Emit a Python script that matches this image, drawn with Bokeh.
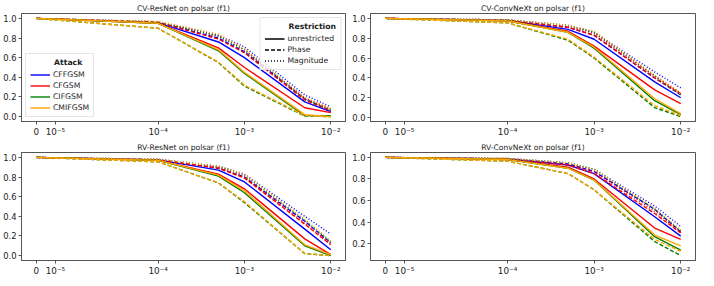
import numpy as np
from bokeh.plotting import figure
from bokeh.layouts import gridplot
from bokeh.models import (Range1d, FixedTicker, CustomJSTickFormatter,
                          PrintfTickFormatter, Legend, LegendItem)
from bokeh.embed import file_html
from bokeh.resources import INLINE

# ---------------- data ----------------
eps = [0.0, 1e-4, 5e-4, 1e-3, 5e-3, 1e-2]
attacks = ["CFFGSM", "CFGSM", "CIFGSM", "CMIFGSM"]
restrictions = ["unrestricted", "Phase", "Magnitude"]
colors = ["blue", "red", "green", "orange"]
dashes = ["solid", "4 2", "1 2"]

x_tick_values = [0.0, 1e-5, 1e-4, 1e-3, 1e-2]
x_tick_labels = ["0", "10\u207b\u2075", "10\u207b\u2074", "10\u207b\u00b3", "10\u207b\u00b2"]
y_tick_values = [0.0, 0.2, 0.4, 0.6, 0.8, 1.0]

titles = ["CV-ResNet on polsar (f1)", "CV-ConvNeXt on polsar (f1)",
          "RV-ResNet on polsar (f1)", "RV-ConvNeXt on polsar (f1)"]

# each attack: [unrestricted, Phase, Magnitude]
cv_resnet_cffgsm = [[1.0, 0.955, 0.76, 0.60, 0.15, 0.05],
                    [1.0, 0.96, 0.80, 0.66, 0.18, 0.06],
                    [1.0, 0.965, 0.83, 0.71, 0.22, 0.10]]
cv_resnet_cfgsm = [[1.0, 0.95, 0.70, 0.50, 0.09, 0.04],
                   [1.0, 0.96, 0.79, 0.65, 0.17, 0.06],
                   [1.0, 0.965, 0.82, 0.68, 0.19, 0.08]]
cv_resnet_cifgsm = [[1.0, 0.95, 0.67, 0.44, 0.01, 0.01],
                    [1.0, 0.90, 0.55, 0.31, 0.005, 0.0],
                    [1.0, 0.965, 0.82, 0.68, 0.18, 0.07]]
cv_resnet_cmifgsm = [[1.0, 0.95, 0.68, 0.45, 0.02, 0.0],
                     [1.0, 0.90, 0.555, 0.32, 0.01, 0.0],
                     [1.0, 0.97, 0.84, 0.69, 0.19, 0.08]]

cv_convnext_cffgsm = [[1.0, 0.98, 0.89, 0.79, 0.36, 0.20],
                      [1.0, 0.98, 0.91, 0.83, 0.40, 0.23],
                      [1.0, 0.985, 0.93, 0.86, 0.46, 0.30]]
cv_convnext_cfgsm = [[1.0, 0.975, 0.87, 0.72, 0.28, 0.14],
                     [1.0, 0.98, 0.91, 0.83, 0.40, 0.24],
                     [1.0, 0.985, 0.92, 0.85, 0.42, 0.25]]
cv_convnext_cifgsm = [[1.0, 0.975, 0.86, 0.70, 0.17, 0.03],
                      [1.0, 0.955, 0.78, 0.60, 0.10, 0.01],
                      [1.0, 0.985, 0.93, 0.86, 0.42, 0.23]]
cv_convnext_cmifgsm = [[1.0, 0.975, 0.86, 0.71, 0.19, 0.04],
                       [1.0, 0.955, 0.79, 0.61, 0.12, 0.02],
                       [1.0, 0.985, 0.93, 0.87, 0.43, 0.24]]

rv_resnet_cffgsm = [[1.0, 0.975, 0.87, 0.75, 0.27, 0.06],
                    [1.0, 0.975, 0.89, 0.80, 0.35, 0.13],
                    [1.0, 0.98, 0.91, 0.83, 0.40, 0.22]]
rv_resnet_cfgsm = [[1.0, 0.97, 0.83, 0.68, 0.17, 0.01],
                   [1.0, 0.975, 0.89, 0.79, 0.32, 0.11],
                   [1.0, 0.98, 0.90, 0.80, 0.33, 0.12]]
rv_resnet_cifgsm = [[1.0, 0.97, 0.81, 0.64, 0.10, 0.0],
                    [1.0, 0.955, 0.74, 0.54, 0.02, 0.0],
                    [1.0, 0.98, 0.91, 0.82, 0.36, 0.14]]
rv_resnet_cmifgsm = [[1.0, 0.97, 0.82, 0.66, 0.11, 0.01],
                     [1.0, 0.955, 0.74, 0.55, 0.02, 0.0],
                     [1.0, 0.98, 0.91, 0.83, 0.37, 0.15]]

rv_convnext_cffgsm = [[1.0, 0.985, 0.93, 0.85, 0.45, 0.27],
                      [1.0, 0.985, 0.94, 0.87, 0.52, 0.31],
                      [1.0, 0.99, 0.95, 0.89, 0.55, 0.36]]
rv_convnext_cfgsm = [[1.0, 0.98, 0.91, 0.80, 0.345, 0.24],
                     [1.0, 0.985, 0.93, 0.85, 0.48, 0.30],
                     [1.0, 0.99, 0.94, 0.87, 0.50, 0.31]]
rv_convnext_cifgsm = [[1.0, 0.98, 0.90, 0.79, 0.265, 0.14],
                      [1.0, 0.965, 0.85, 0.70, 0.22, 0.09],
                      [1.0, 0.99, 0.95, 0.89, 0.52, 0.32]]
rv_convnext_cmifgsm = [[1.0, 0.98, 0.90, 0.79, 0.28, 0.18],
                       [1.0, 0.965, 0.85, 0.70, 0.24, 0.13],
                       [1.0, 0.99, 0.95, 0.89, 0.53, 0.33]]

panels = [
    [cv_resnet_cffgsm, cv_resnet_cfgsm, cv_resnet_cifgsm, cv_resnet_cmifgsm],
    [cv_convnext_cffgsm, cv_convnext_cfgsm, cv_convnext_cifgsm, cv_convnext_cmifgsm],
    [rv_resnet_cffgsm, rv_resnet_cfgsm, rv_resnet_cifgsm, rv_resnet_cmifgsm],
    [rv_convnext_cffgsm, rv_convnext_cfgsm, rv_convnext_cifgsm, rv_convnext_cmifgsm],
]

# ---------------- symlog scale helper ----------------
LINTHRESH = 5e-5
LINSCALE = 1.0 / (1.0 - 1.0 / 10.0)


def symlog(v):
    v = np.asarray(v, dtype=float)
    a = np.abs(v)
    lin = v / LINTHRESH * LINSCALE
    lg = np.sign(v) * (LINSCALE + np.log10(np.maximum(a, 1e-300) / LINTHRESH))
    return np.where(a < LINTHRESH, lin, lg)


FONT = "DejaVu Sans"
TXT = "#222222"
SPINE = "#555555"
NB = "\u00a0"

xt = symlog(eps)
xspan = float(xt.max() - xt.min())
x_lo, x_hi = float(xt.min()) - 0.05 * xspan, float(xt.max()) + 0.05 * xspan
tick_pos = [float(t) for t in symlog(x_tick_values)]


def make_panel(idx, left_b, right_b, with_legend):
    data = panels[idx]
    allv = np.array(data).ravel()
    lo, hi = float(allv.min()), float(allv.max())
    pad = 0.05 * (hi - lo)
    p = figure(width=349, height=139, output_backend="svg", toolbar_location=None,
               x_range=Range1d(x_lo, x_hi), y_range=Range1d(lo - pad, hi + pad),
               min_border_left=left_b, min_border_right=right_b,
               min_border_top=12, min_border_bottom=18)
    p.title.text = titles[idx]
    p.title.align = "center"
    p.title.text_font = FONT
    p.title.text_font_size = "7.6px"
    p.title.text_font_style = "normal"
    p.title.text_color = TXT
    p.title.standoff = 2

    p.xgrid.visible = False
    p.ygrid.visible = False
    p.outline_line_color = SPINE
    p.outline_line_width = 1
    p.background_fill_color = "white"
    p.border_fill_color = "white"

    p.xaxis.ticker = FixedTicker(ticks=tick_pos)
    p.xaxis.formatter = CustomJSTickFormatter(
        args=dict(tpos=tick_pos, tlab=x_tick_labels),
        code="for (let i = 0; i < tpos.length; i++) { if (Math.abs(tpos[i] - tick) < 1e-6) return tlab[i]; } return '';")
    p.yaxis.ticker = FixedTicker(ticks=y_tick_values)
    p.yaxis.formatter = PrintfTickFormatter(format="%.1f")
    for ax in (p.xaxis[0], p.yaxis[0]):
        ax.axis_line_color = SPINE
        ax.major_tick_line_color = SPINE
        ax.major_tick_out = 3
        ax.major_tick_in = 0
        ax.minor_tick_line_color = None
        ax.major_label_standoff = 2
        ax.major_label_text_font = FONT
        ax.major_label_text_font_size = "8.4px"
        ax.major_label_text_color = TXT
    p.xaxis[0].major_label_text_font_size = "8.8px"

    solid_renderers = []
    for a, series in enumerate(data):
        for r, ys in enumerate(series):
            rend = p.line(list(xt), ys, line_color=colors[a], line_width=1.4,
                          line_dash=dashes[r])
            if r == 0:
                solid_renderers.append(rend)

    if with_legend:
        attack_items = [LegendItem(label=attacks[i], renderers=[solid_renderers[i]])
                        for i in range(4)]
        restr_items = []
        # legend-only black samples, placed outside the visible range
        for r in range(3):
            dummy = p.line([x_lo - 10, x_lo - 9], [-10, -10], line_color="black",
                           line_width=1.4, line_dash=dashes[r])
            restr_items.append(LegendItem(label=restrictions[r], renderers=[dummy]))
        for items, title, loc in ((attack_items, NB * 9 + "Attack", "bottom_left"),
                                  (restr_items, NB * 9 + "Restriction", "top_right")):
            lg = Legend(items=items, title=title, location=loc)
            lg.title_text_font = FONT
            lg.title_text_font_style = "bold"
            lg.title_text_font_size = "7.7px"
            lg.title_text_color = TXT
            lg.title_standoff = 3
            lg.label_text_font = FONT
            lg.label_text_font_size = "7.7px"
            lg.label_text_color = TXT
            lg.glyph_width = 20
            lg.glyph_height = 9
            lg.label_height = 9
            lg.label_standoff = 3
            lg.spacing = 2
            lg.padding = 4
            lg.margin = 4
            lg.border_line_color = "#cccccc"
            lg.border_line_width = 1
            lg.background_fill_color = "white"
            lg.background_fill_alpha = 0.8
            p.add_layout(lg, "center")
    return p


p1 = make_panel(0, 18, 4, True)
p2 = make_panel(1, 20, 3, False)
p3 = make_panel(2, 18, 4, False)
p4 = make_panel(3, 20, 3, False)

grid = gridplot([[p1, p2], [p3, p4]], toolbar_location=None)

open("out.html", "w").write(file_html(grid, INLINE))
